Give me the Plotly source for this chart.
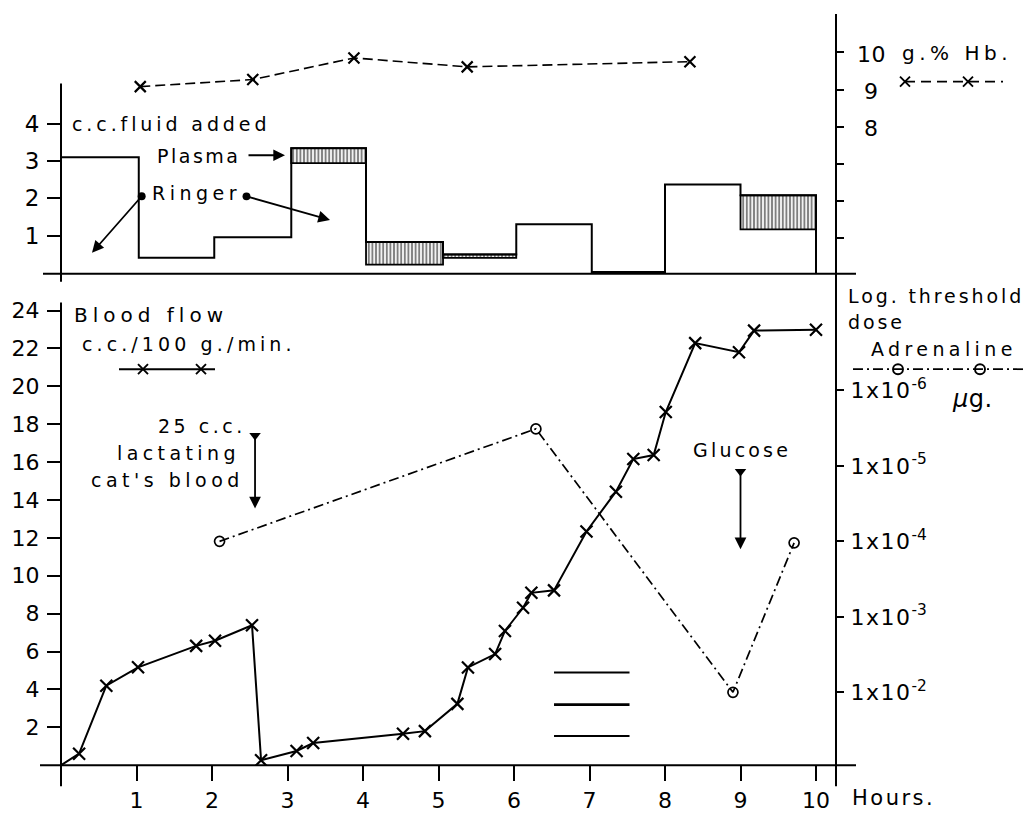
import plotly.graph_objects as go

# ---------------- data ----------------
# Top panel: c.c. fluid added per period (Ringer + Plasma)
period_start = [0.0, 1.03, 2.03, 3.05, 4.04, 5.06, 6.03, 7.03, 8.0, 9.0]
period_end = [1.03, 2.03, 3.05, 4.04, 5.06, 6.03, 7.03, 8.0, 9.0, 10.0]
ringer_cc = [3.1, 0.41, 0.96, 2.94, 0.23, 0.41, 1.31, 0.03, 2.37, 1.17]
plasma_cc = [0.0, 0.0, 0.0, 0.40, 0.60, 0.09, 0.0, 0.0, 0.0, 0.91]

# Top panel: haemoglobin g.%
hb_hours = [1.05, 2.54, 3.88, 5.38, 8.33]
hb_values = [9.08, 9.27, 9.85, 9.61, 9.75]

# Bottom panel: blood flow c.c./100 g./min.
flow_hours = [0, 0.24, 0.6, 1.02, 1.79, 2.04, 2.53, 2.65, 3.12, 3.34, 4.53, 4.82,
              5.25, 5.39, 5.75, 5.88, 6.12, 6.23, 6.53, 6.96, 7.35, 7.58, 7.85,
              8.01, 8.4, 8.98, 9.18, 10.0]
flow_values = [0, 0.61, 4.2, 5.17, 6.3, 6.57, 7.39, 0.26, 0.75, 1.17, 1.66, 1.8,
               3.24, 5.16, 5.87, 7.09, 8.31, 9.1, 9.23, 12.34, 14.44, 16.16, 16.37,
               18.64, 22.28, 21.8, 22.94, 22.99]

# Bottom panel: log threshold dose of adrenaline (log10 of dose in micrograms)
adr_hours = [2.1, 6.29, 8.9, 9.71]
adr_log_dose = [-4.0, -5.49, -2.0, -3.98]

# three horizontal marks drawn in the lower panel
mark_hours = [6.53, 7.53]
mark_levels = [4.9, 3.2, 1.54]

# events
blood_hour, blood_head, blood_tail = 2.57, 13.55, 17.4
glucose_hour, glucose_head, glucose_tail = 9.0, 11.4, 15.5

x_ticks = list(range(1, 11))
flow_ticks = list(range(2, 25, 2))
fluid_ticks = [1, 2, 3, 4]
hb_ticks = [5, 6, 7, 8, 9, 10]
hb_labels = ["8", "9", "10"]
dose_ticks = [-2, -3, -4, -5, -6]
dose_ticktext = ['<span style="letter-spacing:1.5px">1x10</span><sup>-%d</sup>' % (-d)
                 for d in dose_ticks]

# ---------------- layout helpers ----------------
W, H = 1031, 813
FONT = "DejaVu Sans"


def P(px, py):
    return px / W, 1 - py / H


X0, XR = 61, 836           # pixel x of hour 0 and of right axis
PPH = 75.5                 # pixels per hour
xrange_ = [0, (XR - X0) / PPH]
xdom = [X0 / W, XR / W]

B0, BT = 765, 300          # bottom panel: pixel y of value 0, top
PPU_B = 19.04
T0, TT = 270.5, 10         # top panel
PPU_T = 37.6
HB_PX9, HB_PPU = 86, 37.4

XMARK = dict(symbol="x-thin", size=12, color="black", line=dict(color="black", width=2.2))

fig = go.Figure()

# ---- top panel: fluid added
edges_x = period_start + [period_end[-1], period_end[-1]]
totals = [r + p for r, p in zip(ringer_cc, plasma_cc)]
edges_y = totals + [totals[-1], 0]
fig.add_trace(go.Scatter(x=edges_x, y=edges_y, mode="lines", line_shape="hv",
                         line=dict(color="black", width=2),
                         xaxis="x2", yaxis="y3", hoverinfo="skip"))
bar_x = [(s + e) / 2 for s, e, p in zip(period_start, period_end, plasma_cc) if p > 0]
bar_w = [(e - s) for s, e, p in zip(period_start, period_end, plasma_cc) if p > 0]
bar_b = [r for r, p in zip(ringer_cc, plasma_cc) if p > 0]
bar_h = [p for p in plasma_cc if p > 0]
fig.add_trace(go.Bar(x=bar_x, y=bar_h, base=bar_b, width=bar_w,
                     marker=dict(color="white",
                                 line=dict(color="black", width=1.8),
                                 pattern=dict(shape="|", fgcolor="black", bgcolor="white",
                                              size=3.6, solidity=0.55, fillmode="overlay")),
                     xaxis="x2", yaxis="y3", hoverinfo="skip"))

# ---- top panel: Hb
fig.add_trace(go.Scatter(x=hb_hours, y=hb_values, mode="lines+markers",
                         line=dict(color="black", width=1.6, dash="10px,5px"),
                         marker=dict(XMARK, size=11),
                         xaxis="x2", yaxis="y4", hoverinfo="skip"))

# ---- bottom panel: blood flow (line from origin, crosses on the measured points)
fig.add_trace(go.Scatter(x=flow_hours, y=flow_values, mode="lines",
                         line=dict(color="black", width=2),
                         xaxis="x", yaxis="y", hoverinfo="skip"))
fig.add_trace(go.Scatter(x=flow_hours[1:], y=flow_values[1:], mode="markers",
                         marker=XMARK, xaxis="x", yaxis="y", hoverinfo="skip"))

# ---- bottom panel: adrenaline threshold
fig.add_trace(go.Scatter(x=adr_hours, y=adr_log_dose, mode="lines+markers",
                         line=dict(color="black", width=1.7, dash="10px,4px,2px,4px"),
                         marker=dict(symbol="circle-open", size=10, color="black",
                                     line=dict(color="black", width=1.7)),
                         xaxis="x", yaxis="y2", hoverinfo="skip"))

# ---- three horizontal marks
for i, lv in enumerate(mark_levels):
    fig.add_trace(go.Scatter(x=mark_hours, y=[lv, lv], mode="lines",
                             line=dict(color="black", width=2.8 if i == 1 else 2),
                             xaxis="x", yaxis="y", hoverinfo="skip"))

# ---- event arrow tails (fletching)
fig.add_trace(go.Scatter(x=[blood_hour, glucose_hour], y=[blood_tail, glucose_tail],
                         mode="markers",
                         marker=dict(symbol="triangle-down", size=10, color="black"),
                         xaxis="x", yaxis="y", hoverinfo="skip", cliponaxis=False))

# ---- legend keys on full-page pixel axes
def key(xs, ys, dash, mx, symbol, width=1.7):
    fig.add_trace(go.Scatter(x=xs, y=ys, mode="lines", line=dict(color="black", width=width, dash=dash),
                             xaxis="x3", yaxis="y5", hoverinfo="skip"))
    fig.add_trace(go.Scatter(x=mx, y=[ys[0]] * len(mx), mode="markers",
                             marker=dict(symbol=symbol, size=10, color="black",
                                         line=dict(color="black", width=1.9)),
                             xaxis="x3", yaxis="y5", hoverinfo="skip"))

key([119, 215], [367, 367], "solid", [143, 201], "x-thin", 2)
key([853, 1027], [367, 367], "10px,4px,2px,4px", [898, 980], "circle-open")
key([905, 1003], [78, 78], "10px,6px", [905, 968], "x-thin")

# ---------------- axes ----------------
common = dict(showgrid=False, zeroline=False, showline=False, color="black")
fig.update_layout(
    width=W, height=H, margin=dict(l=0, r=0, t=0, b=0),
    paper_bgcolor="white", plot_bgcolor="rgba(0,0,0,0)", showlegend=False,
    barmode="overlay",
    xaxis=dict(domain=xdom, range=xrange_, anchor="y", tickvals=x_ticks,
               ticktext=[str(v) for v in x_ticks], ticks="outside", ticklen=15,
               tickwidth=2, tickcolor="black", tickfont=dict(family=FONT, size=22, color="black"),
               ticklabelstandoff=0, **common),
    yaxis=dict(domain=[1 - B0 / H, 1 - BT / H], range=[0, (B0 - BT) / PPU_B], anchor="x",
               tickvals=flow_ticks, ticks="outside", ticklen=13, tickwidth=2,
               tickcolor="black", tickfont=dict(family=FONT, size=22, color="black"),
               ticklabelstandoff=3, **common),
    yaxis2=dict(overlaying="y", side="right", anchor="x",
                range=[-(2 - (B0 - 691.7) / 75.85), -(2 + (691.7 - BT) / 75.85)],
                tickvals=dose_ticks, ticktext=dose_ticktext, ticks="outside", ticklen=7,
                tickwidth=2, tickcolor="black", tickfont=dict(family=FONT, size=22, color="black"),
                ticklabelstandoff=2, **common),
    xaxis2=dict(domain=xdom, range=xrange_, anchor="y3", showticklabels=False, ticks="", **common),
    yaxis3=dict(domain=[1 - T0 / H, 1 - TT / H], range=[0, (T0 - TT) / PPU_T], anchor="x2",
                tickvals=fluid_ticks, ticks="outside", ticklen=13, tickwidth=2,
                tickcolor="black", tickfont=dict(family=FONT, size=23, color="black"),
                ticklabelstandoff=3, **common),
    yaxis4=dict(overlaying="y3", side="right", anchor="x2",
                range=[9 - (T0 - HB_PX9) / HB_PPU, 9 + (HB_PX9 - TT) / HB_PPU],
                tickvals=hb_ticks, showticklabels=False, ticks="outside", ticklen=7,
                tickwidth=2, tickcolor="black", **common),
    xaxis3=dict(domain=[0, 1], range=[0, W], anchor="y5", visible=False),
    yaxis5=dict(domain=[0, 1], range=[H, 0], anchor="x3", visible=False),
)

# ---------------- axis lines ----------------
def seg(x0, y0, x1, y1, w=2):
    a, b = P(x0, y0)
    c, d = P(x1, y1)
    fig.add_shape(type="line", xref="paper", yref="paper", x0=a, y0=b, x1=c, y1=d,
                  line=dict(color="black", width=w))

seg(61, 80, 61, 279)      # top-left axis
seg(43, 271, 856, 271)    # top baseline
seg(61, 300, 61, 786)     # bottom-left axis
seg(40, 765, 856, 765)    # bottom baseline
seg(836, 10, 836, 786)    # right axis

# ---------------- text ----------------
def txt(s, px, py, size=19, anchor="left", ls=2.5):
    x, y = P(px, py)
    fig.add_annotation(x=x, y=y, xref="paper", yref="paper", showarrow=False,
                       text='<span style="letter-spacing:%.1fpx">%s</span>' % (ls, s),
                       xanchor=anchor, yanchor="middle",
                       font=dict(family=FONT, size=size, color="black"))

# Hb tick labels (placed beside the right axis at their values)
for lab in hb_labels:
    v = float(lab)
    py = HB_PX9 - (v - 9) * HB_PPU
    txt(lab, 871, py + 2, 22, "center", 0.5)

txt("c.c.fluid added", 70, 121, 19, ls=3.9)
txt("Plasma", 242, 153, 19, "right", 2.5)
txt("Ringer", 150, 190, 19, ls=4.5)
txt("g.% Hb.", 900, 49, 20, ls=4.5)
txt("Blood flow", 72, 313, 20, ls=5)
txt("c.c./100 g./min.", 80, 342, 19, ls=4.1)
txt("25 c.c.", 248, 424, 19, "right", 3.5)
txt("lactating", 242, 451, 19, "right", 4.4)
txt("cat's blood", 246, 478, 19, "right", 4.5)
txt("Glucose", 742, 448, 19, "center", 3.2)
txt("Log. threshold", 846, 293, 19, ls=2.9)
txt("dose", 846, 320, 19, ls=2.9)
txt("Adrenaline", 944, 347, 19, "center", 4.4)
txt("<i>μ</i>g.", 950, 397, 24, ls=0.5)
txt("Hours.", 850, 798, 21, ls=2.5)

# ---------------- arrows ----------------
def hx(px):
    return (px - X0) / PPH

def arrow(xv, yv, ax, ay, xref, yref, start=True):
    fig.add_annotation(x=xv, y=yv, xref=xref, yref=yref, ax=ax, ay=ay, axref="pixel", ayref="pixel",
                       text="", showarrow=True, arrowhead=2, arrowsize=1.3, arrowwidth=1.8,
                       arrowcolor="black", arrowside="end+start" if start else "end",
                       startarrowhead=6, startarrowsize=1.1)

arrow(hx(92), (T0 - 250) / PPU_T, 51, -58, "x2", "y3")
arrow(hx(330), (T0 - 217) / PPU_T, -85, -24, "x2", "y3")
arrow(hx(285), (T0 - 152) / PPU_T, -38, 0, "x2", "y3", start=False)
arrow(blood_hour, blood_head, 0, -(blood_tail - blood_head) * PPU_B, "x", "y", start=False)
arrow(glucose_hour, glucose_head, 0, -(glucose_tail - glucose_head) * PPU_B, "x", "y", start=False)

fig.write_html("out.html", config={"displayModeBar": False},
               post_script="document.body.style.margin='0';document.body.style.overflow='hidden';")
